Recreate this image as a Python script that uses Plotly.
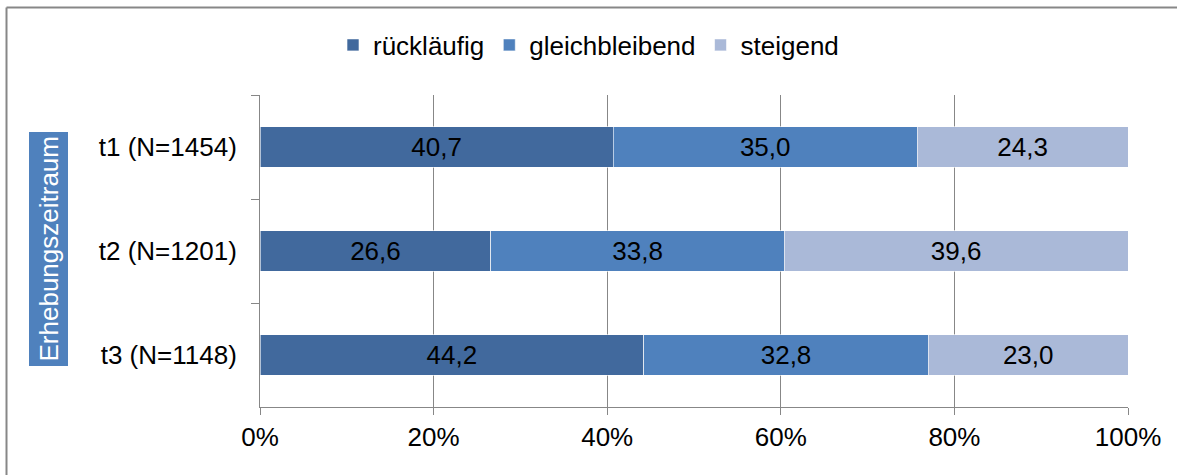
import plotly.graph_objects as go

categories = ["t1 (N=1454)", "t2 (N=1201)", "t3 (N=1148)"]
series_names = ["rückläufig", "gleichbleibend", "steigend"]
ruecklaeufig = [40.7, 26.6, 44.2]
gleichbleibend = [35.0, 33.8, 32.8]
steigend = [24.3, 39.6, 23.0]
x_tickvals = [0, 20, 40, 60, 80, 100]
x_ticktext = ["0%", "20%", "40%", "60%", "80%", "100%"]
y_title = "Erhebungszeitraum"

colors = ["#41699D", "#4F81BD", "#AAB9D8"]
FONT = "Liberation Sans, Arial, sans-serif"
FS = 26

fig = go.Figure()
for name, vals, col in zip(series_names, [ruecklaeufig, gleichbleibend, steigend], colors):
    fig.add_trace(go.Bar(
        y=categories, x=vals, name=name, orientation="h",
        marker=dict(color=col, line=dict(color="rgba(255,255,255,0.6)", width=1)),
        text=[f"{v:.1f}".replace(".", ",") for v in vals],
        textposition="inside", insidetextanchor="middle",
        textfont=dict(color="black", size=FS, family=FONT),
        width=0.385,
    ))

W, H = 1177, 475
L, R, T, B = 260, 49, 95, 68
pw, ph = W - L - R, H - T - B

fig.update_layout(
    barmode="stack",
    width=W, height=H,
    margin=dict(l=L, r=R, t=T, b=B, autoexpand=False),
    paper_bgcolor="white", plot_bgcolor="white",
    font=dict(family=FONT, size=FS, color="black"),
    legend=dict(orientation="h", xref="container", yref="container",
                x=0.5, xanchor="center", y=1 - 45 / H, yanchor="middle",
                font=dict(size=FS), traceorder="normal", itemwidth=30),
    xaxis=dict(range=[0, 100], tickvals=x_tickvals, ticktext=x_ticktext,
               showgrid=True, gridcolor="#878787", gridwidth=1,
               showline=True, linecolor="#878787", linewidth=1,
               ticks="outside", ticklen=7, tickcolor="#878787",
               tickfont=dict(size=FS), zeroline=False, automargin=False),
    yaxis=dict(categoryorder="array", categoryarray=categories,
               range=[2.5, -0.5], tickson="boundaries",
               showline=True, linecolor="#878787", linewidth=1,
               ticks="outside", ticklen=8, tickcolor="#878787",
               tickfont=dict(size=FS), ticklabelstandoff=17,
               showgrid=False, zeroline=False, automargin=False),
    bargap=0.6,
    showlegend=True,
)

fig.add_annotation(
    text=y_title, textangle=-90, xref="paper", yref="paper",
    x=(48.5 - L) / pw, y=1 - (249 - T) / ph, xanchor="center", yanchor="middle",
    showarrow=False, font=dict(color="white", size=FS, family=FONT),
    bgcolor="#4F81BD", borderpad=4,
)

# outer chart-area border: only the left and top edges fall inside the window
bx0 = -(L - 6.5) / pw
by1 = 1 + (T - 7.5) / ph
fig.add_shape(type="line", xref="paper", yref="paper",
              x0=bx0, x1=bx0, y0=-B / ph, y1=by1,
              line=dict(color="#878787", width=2), layer="below")
fig.add_shape(type="line", xref="paper", yref="paper",
              x0=bx0, x1=1 + R / pw, y0=by1, y1=by1,
              line=dict(color="#878787", width=2), layer="below")

fig.write_html("out.html", config={"displayModeBar": False},
               post_script="document.body.style.margin='0';document.body.style.overflow='hidden';")
